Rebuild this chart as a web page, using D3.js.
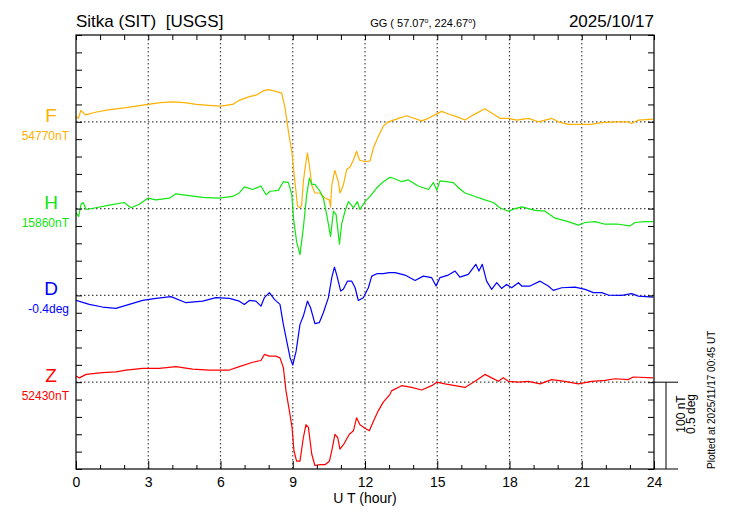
<!DOCTYPE html>
<html>
<head><meta charset="utf-8">
<style>
  body { margin: 0; background: #fff; }
  text { font-family: "Liberation Sans", Arial, sans-serif; white-space: pre; }
  .axis path.domain { display: none; }
  .axis line { stroke: #000; }
  .grid { stroke: #444; stroke-width: 1.2; stroke-dasharray: 1.5,2.5; }
</style>
</head>
<body>
<script src="https://cdn.jsdelivr.net/npm/d3@7"></script>
<script>
// components and baselines
var comps = ["F", "H", "D", "Z"];
var baseLabels = ["54770nT", "15860nT", "-0.4deg", "52430nT"];
var baseVals = [54770, 15860, -0.4, 52430];
var hourTicks = [0, 3, 6, 9, 12, 15, 18, 21, 24];

// F (nT)
var fHour = [0, 0.1, 0.2, 0.4, 0.8, 1.4, 2, 2.5, 3, 3.5, 4, 4.5, 5, 5.5, 6, 6.5, 6.8, 7.2, 7.5, 7.8, 8, 8.3, 8.54, 8.68, 8.82, 8.96, 9.09, 9.2, 9.3, 9.37, 9.44, 9.55, 9.61, 9.69, 9.79, 9.92, 10.13, 10.34, 10.52, 10.57, 10.62, 10.75, 10.89, 10.96, 11.1, 11.24, 11.38, 11.52, 11.65, 11.77, 12, 12.21, 12.35, 12.55, 12.76, 12.97, 13.1, 13.39, 13.73, 13.94, 14.35, 14.63, 14.9, 15.18, 15.46, 15.8, 16.15, 16.5, 16.98, 17.26, 17.6, 17.95, 18.3, 18.78, 19.2, 19.75, 20.03, 20.44, 21, 21.4, 21.8, 22.38, 22.93, 23.07, 23.35, 23.97];
var fNT = [54776, 54774, 54783, 54778, 54781, 54784, 54786, 54788, 54790, 54792, 54793, 54792, 54790, 54789, 54788, 54790, 54795, 54799, 54801, 54806, 54807, 54805, 54803, 54786, 54759, 54736, 54701, 54673, 54671, 54674, 54701, 54724, 54734, 54720, 54697, 54688, 54688, 54682, 54680, 54672, 54697, 54714, 54701, 54688, 54697, 54715, 54718, 54726, 54736, 54726, 54724, 54725, 54740, 54753, 54765, 54770, 54771, 54774, 54777, 54775, 54771, 54774, 54778, 54782, 54779, 54776, 54772, 54778, 54785, 54780, 54774, 54774, 54772, 54774, 54770, 54774, 54770, 54767, 54767, 54767, 54769, 54770, 54770, 54768, 54772, 54773];

// H (nT)
var hHour = [0, 0.11, 0.21, 0.3, 0.42, 0.83, 1.38, 2, 2.28, 2.63, 2.98, 3.32, 3.88, 4.15, 4.7, 5.26, 5.95, 6.5, 6.78, 6.99, 7.34, 7.68, 7.89, 8.06, 8.4, 8.61, 8.82, 8.96, 9.03, 9.16, 9.3, 9.44, 9.58, 9.69, 9.79, 9.92, 10.13, 10.27, 10.41, 10.57, 10.69, 10.8, 10.94, 11.03, 11.17, 11.31, 11.52, 11.68, 11.79, 12, 12.21, 12.49, 12.76, 13.04, 13.18, 13.52, 13.8, 14.21, 14.63, 14.84, 14.98, 15.11, 15.39, 15.67, 15.88, 16.15, 16.57, 16.98, 17.33, 17.6, 17.95, 18.23, 18.51, 19.06, 19.48, 19.89, 20.44, 20.86, 21.14, 21.55, 21.97, 22.52, 23, 23.21, 23.63, 23.97];
var hNT = [15855, 15851, 15865, 15867, 15859, 15861, 15864, 15867, 15861, 15865, 15872, 15870, 15872, 15877, 15875, 15873, 15872, 15874, 15878, 15885, 15882, 15886, 15876, 15880, 15881, 15891, 15890, 15876, 15849, 15822, 15807, 15838, 15876, 15895, 15888, 15888, 15880, 15872, 15853, 15828, 15857, 15853, 15819, 15842, 15857, 15868, 15861, 15868, 15859, 15868, 15874, 15884, 15891, 15896, 15895, 15891, 15893, 15886, 15882, 15890, 15881, 15892, 15891, 15890, 15884, 15878, 15874, 15870, 15867, 15861, 15857, 15860, 15862, 15858, 15857, 15849, 15845, 15841, 15844, 15845, 15842, 15842, 15840, 15844, 15845, 15845];

// D (deg)
var dHour = [0, 0.55, 1.1, 1.66, 2.21, 2.77, 3.32, 3.94, 4.57, 5.26, 5.81, 6.37, 6.78, 6.99, 7.2, 7.47, 7.68, 7.82, 8.03, 8.24, 8.47, 8.61, 8.75, 8.89, 9, 9.14, 9.3, 9.44, 9.61, 9.74, 9.92, 10.1, 10.27, 10.48, 10.62, 10.73, 10.82, 10.99, 11.1, 11.27, 11.45, 11.59, 11.72, 11.93, 12.14, 12.28, 12.49, 12.76, 13.01, 13.25, 13.66, 14.08, 14.42, 14.77, 14.95, 15.11, 15.46, 15.74, 15.94, 16.29, 16.6, 16.73, 16.87, 17.05, 17.26, 17.47, 17.67, 17.88, 18.09, 18.37, 18.51, 18.85, 19.27, 19.61, 19.82, 20.17, 20.72, 21.14, 21.48, 21.83, 22.1, 22.66, 23.07, 23.35, 23.97];
var dDeg = [-0.429, -0.452, -0.467, -0.475, -0.452, -0.429, -0.417, -0.407, -0.442, -0.433, -0.413, -0.417, -0.433, -0.452, -0.429, -0.433, -0.462, -0.413, -0.384, -0.423, -0.452, -0.567, -0.663, -0.759, -0.801, -0.721, -0.567, -0.519, -0.433, -0.471, -0.563, -0.557, -0.5, -0.413, -0.298, -0.237, -0.279, -0.375, -0.365, -0.318, -0.318, -0.356, -0.429, -0.413, -0.356, -0.289, -0.275, -0.275, -0.269, -0.269, -0.283, -0.314, -0.289, -0.298, -0.346, -0.298, -0.283, -0.26, -0.295, -0.279, -0.221, -0.26, -0.221, -0.318, -0.365, -0.327, -0.36, -0.337, -0.356, -0.327, -0.346, -0.346, -0.318, -0.346, -0.371, -0.356, -0.352, -0.365, -0.384, -0.384, -0.398, -0.4, -0.39, -0.404, -0.41];

// Z (nT)
var zHour = [0, 0.14, 0.42, 1.1, 1.66, 2.08, 2.77, 3.46, 4.15, 4.84, 5.54, 6.37, 6.78, 7.34, 7.68, 7.82, 8.03, 8.3, 8.47, 8.61, 8.72, 8.86, 8.97, 9.05, 9.16, 9.3, 9.44, 9.55, 9.65, 9.79, 9.92, 10.13, 10.34, 10.52, 10.62, 10.75, 10.87, 10.96, 11.13, 11.35, 11.52, 11.65, 11.79, 12, 12.18, 12.35, 12.55, 12.76, 13.04, 13.1, 13.52, 13.94, 14.35, 14.77, 14.98, 15.32, 15.74, 16.15, 16.57, 16.98, 17.26, 17.54, 17.74, 17.95, 18.37, 18.78, 19.27, 19.75, 20.3, 20.86, 21.41, 21.97, 22.38, 22.93, 23.14, 23.97];
var zNT = [52437, 52435, 52439, 52441, 52442, 52444, 52446, 52446, 52448, 52445, 52444, 52444, 52448, 52453, 52455, 52462, 52460, 52460, 52458, 52447, 52420, 52397, 52378, 52351, 52339, 52339, 52366, 52381, 52378, 52347, 52334, 52335, 52335, 52339, 52351, 52370, 52366, 52353, 52359, 52370, 52374, 52389, 52381, 52377, 52374, 52385, 52397, 52407, 52416, 52420, 52426, 52424, 52421, 52426, 52430, 52428, 52426, 52424, 52431, 52439, 52435, 52431, 52435, 52431, 52430, 52431, 52428, 52433, 52431, 52428, 52431, 52432, 52434, 52433, 52436, 52435];

var width = 730, height = 520;
var x0 = 76, x1 = 654, y0 = 35, y1 = 469;

var x = d3.scaleLinear().domain([0, 24]).range([x0, x1]);
var y = d3.scaleLinear().domain([0, 500]).range([y1, y0]);

var series = [
  {hours: fHour, vals: fNT, slot: 400, k: 1, color: "#ffb000"},
  {hours: hHour, vals: hNT, slot: 300, k: 1, color: "#10e610"},
  {hours: dHour, vals: dDeg, slot: 200, k: 200, color: "#0000ff"},
  {hours: zHour, vals: zNT, slot: 100, k: 1, color: "#ff0000"}
];

var svg = d3.select("body").append("svg")
    .attr("width", width)
    .attr("height", height);

svg.append("clipPath").attr("id", "clip")
  .append("rect").attr("x", x0).attr("y", y0).attr("width", x1 - x0).attr("height", y1 - y0);

// dotted grid
svg.append("g").selectAll("line")
  .data(hourTicks.slice(1, -1))
  .enter().append("line")
    .attr("class", "grid")
    .attr("x1", d => x(d)).attr("x2", d => x(d))
    .attr("y1", y0).attr("y2", y1);

svg.append("g").selectAll("line")
  .data(series)
  .enter().append("line")
    .attr("class", "grid")
    .attr("x1", x0).attr("x2", x1)
    .attr("y1", d => y(d.slot)).attr("y2", d => y(d.slot));

// traces
var line = d3.line();
svg.append("g").attr("clip-path", "url(#clip)")
  .selectAll("path")
  .data(series)
  .enter().append("path")
    .attr("fill", "none")
    .attr("stroke", d => d.color)
    .attr("stroke-width", 1.2)
    .attr("stroke-linejoin", "round")
    .attr("d", (s, i) => line(s.hours.map((h, j) => [x(h), y(s.slot + (s.vals[j] - baseVals[i]) * s.k)])));

// frame
svg.append("rect")
  .attr("x", x0).attr("y", y0).attr("width", x1 - x0).attr("height", y1 - y0)
  .attr("fill", "none").attr("stroke", "#000").attr("stroke-width", 1.2);

// axes
var hours = d3.range(0, 25);
svg.append("g").attr("class", "axis")
  .attr("transform", "translate(0," + y0 + ")")
  .call(d3.axisBottom(x).tickValues(hours).tickSize(5).tickFormat(""));

svg.append("g").attr("class", "axis")
  .attr("transform", "translate(0," + y1 + ")")
  .call(d3.axisBottom(x).tickValues(hours.filter(h => h % 3)).tickSize(-4).tickFormat(""));

svg.append("g").attr("class", "axis xlab")
  .attr("transform", "translate(0," + y1 + ")")
  .call(d3.axisBottom(x).tickValues(hourTicks).tickSize(-8).tickPadding(8).tickFormat(d3.format("d")))
  .selectAll("text").attr("font-size", 14).attr("fill", "#000")
    .style("font-family", "'Liberation Sans', Arial, sans-serif");

var yt = d3.range(0, 501, 20);
svg.append("g").attr("class", "axis")
  .attr("transform", "translate(" + x0 + ",0)")
  .call(d3.axisRight(y).tickValues(yt).tickSize(6).tickFormat(""));
svg.append("g").attr("class", "axis")
  .attr("transform", "translate(" + x1 + ",0)")
  .call(d3.axisLeft(y).tickValues(yt).tickSize(6).tickFormat(""));

// extended bottom line and scale bar
svg.append("line").attr("x1", x1).attr("x2", 678).attr("y1", y1).attr("y2", y1).attr("stroke", "#000");
svg.append("line").attr("x1", x1).attr("x2", 678).attr("y1", y(100)).attr("y2", y(100)).attr("stroke", "#000");
svg.append("line").attr("x1", 666).attr("x2", 666).attr("y1", y(100)).attr("y2", y(0)).attr("stroke", "#000");

svg.append("text").attr("transform", "translate(685,414) rotate(-90)")
  .attr("text-anchor", "middle").attr("font-size", 12).text("100 nT");
svg.append("text").attr("transform", "translate(695,414) rotate(-90)")
  .attr("text-anchor", "middle").attr("font-size", 12).text("0.5 deg");
svg.append("text").attr("transform", "translate(715,469) rotate(-90)")
  .attr("font-size", 10).text("Plotted at 2025/11/17 00:45 UT");

// component labels
svg.append("g").selectAll("text")
  .data(series)
  .enter().append("text")
    .attr("x", 51).attr("y", d => y(d.slot))
    .attr("text-anchor", "middle").attr("font-size", 19)
    .attr("fill", d => d.color)
    .text((d, i) => comps[i]);

svg.append("g").selectAll("text")
  .data(series)
  .enter().append("text")
    .attr("x", 69).attr("y", d => y(d.slot) + 18)
    .attr("text-anchor", "end").attr("font-size", 12)
    .attr("fill", d => d.color)
    .text((d, i) => baseLabels[i]);

// titles
svg.append("text").attr("x", x0).attr("y", 27).attr("font-size", 17).text("Sitka (SIT)  [USGS]");
svg.append("text").attr("x", x1).attr("y", 27).attr("font-size", 17).attr("text-anchor", "end").text("2025/10/17");
var gg = svg.append("text").attr("x", 423).attr("y", 27).attr("font-size", 11).attr("text-anchor", "middle");
gg.append("tspan").text("GG ( 57.07");
gg.append("tspan").attr("font-size", 7).attr("dy", -4).text("o");
gg.append("tspan").attr("dy", 4).text(", 224.67");
gg.append("tspan").attr("font-size", 7).attr("dy", -4).text("o");
gg.append("tspan").attr("dy", 4).text(")");

svg.append("text").attr("x", x(12)).attr("y", 503).attr("font-size", 14)
  .attr("text-anchor", "middle").text("U T (hour)");
</script>
</body>
</html>
